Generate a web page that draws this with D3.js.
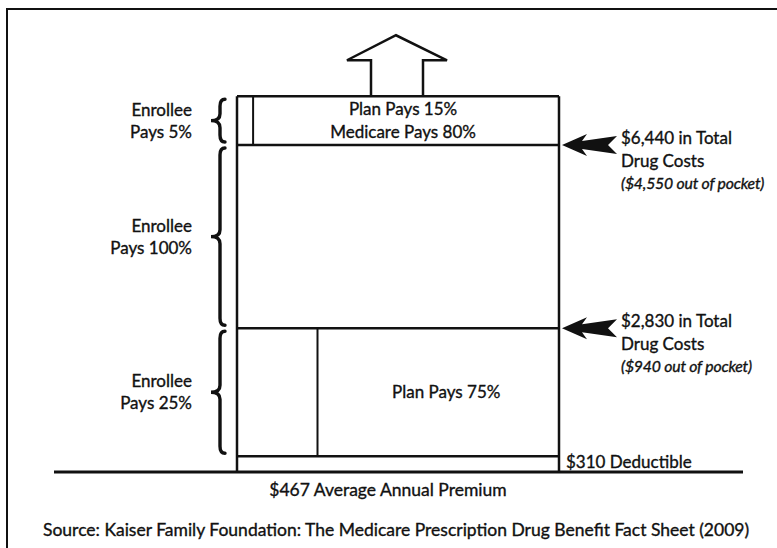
<!DOCTYPE html>
<html>
<head>
<meta charset="utf-8">
<script src="https://cdn.jsdelivr.net/npm/d3@7"></script>
<style>
  body { margin: 0; background: #fff; }
  svg text { font-family: Lato, "Open Sans", sans-serif; font-size: 17px; fill: #111; stroke: #111; stroke-width: 0.35px; }
</style>
</head>
<body>
<div id="chart"></div>
<script>
const width = 777;
const height = 548;

// total drug cost at each tier boundary ($), bottom to top (last one is just the open top of the box)
const tierBounds = [0, 310, 2830, 6440, 7400];
// share the enrollee pays inside each tier (%)
const enrolleeShare = [100, 25, 100, 5];
const braceLabels = [null, ["Enrollee", "Pays 25%"], ["Enrollee", "Pays 100%"], ["Enrollee", "Pays 5%"]];
const tierText = [null, ["Plan Pays 75%"], null, ["Plan Pays 15%", "Medicare Pays 80%"]];

// thresholds pointed at by the arrows on the right
const thresholdValues = [2830, 6440];
const thresholdLabels = [
    ["$2,830 in Total", "Drug Costs", "($940 out of pocket)"],
    ["$6,440 in Total", "Drug Costs", "($4,550 out of pocket)"]
];
const deductibleLabel = "$310 Deductible";
const premiumLabel = "$467 Average Annual Premium";
const sourceLabel = "Source: Kaiser Family Foundation: The Medicare Prescription Drug Benefit Fact Sheet (2009)";

const svg = d3.select("#chart")
    .append("svg")
    .attr("width", width)
    .attr("height", height);

const y = d3.scaleLinear().domain([0, 6440]).range([472, 145]);
const x = d3.scaleLinear().domain([0, 100]).range([237, 559]);

// outer frame (top and left edge only show in the scan)
svg.append("path")
    .attr("d", `M7,${height} L7,9 L${width},9`)
    .attr("fill", "none")
    .attr("stroke", "#111")
    .attr("stroke-width", 2);

// ground line
svg.append("line")
    .attr("x1", 54).attr("x2", 743)
    .attr("y1", y(0)).attr("y2", y(0))
    .attr("stroke", "#111").attr("stroke-width", 3);

const topValue = tierBounds[tierBounds.length - 1];

// up arrow on top of the box (catastrophic coverage has no ceiling)
const cx = (x(0) + x(100)) / 2;
const yTop = y(topValue);
svg.append("path")
    .attr("d", `M${cx - 27},${yTop} L${cx - 27},${yTop - 36} L${cx - 51},${yTop - 36} L${cx - 2},${yTop - 61} L${cx + 49},${yTop - 36} L${cx + 25},${yTop - 36} L${cx + 25},${yTop}`)
    .attr("fill", "#fff")
    .attr("stroke", "#111")
    .attr("stroke-width", 2.5);

// box sides
svg.selectAll(".side")
    .data([0, 100])
    .enter().append("line")
    .attr("class", "side")
    .attr("x1", d => x(d)).attr("x2", d => x(d))
    .attr("y1", y(0)).attr("y2", y(topValue))
    .attr("stroke", "#111").attr("stroke-width", 2.5);

// tier boundaries
svg.selectAll(".bound")
    .data(tierBounds.slice(1))
    .enter().append("line")
    .attr("class", "bound")
    .attr("x1", x(0)).attr("x2", x(100))
    .attr("y1", d => y(d)).attr("y2", d => y(d))
    .attr("stroke", "#111").attr("stroke-width", 2.5);

// split between enrollee part and plan part
const tiers = enrolleeShare.map((s, i) => ({ share: s, lo: tierBounds[i], hi: tierBounds[i + 1], i }));

svg.selectAll(".split")
    .data(tiers.filter(t => t.share < 100))
    .enter().append("line")
    .attr("class", "split")
    .attr("x1", d => x(d.share)).attr("x2", d => x(d.share))
    .attr("y1", d => y(d.lo)).attr("y2", d => y(d.hi))
    .attr("stroke", "#111").attr("stroke-width", 2);

// text inside the plan part
tiers.forEach(t => {
    const lines = tierText[t.i];
    if (!lines) return;
    const mid = (y(t.lo) + y(t.hi)) / 2;
    const tx = (x(t.share) + x(100)) / 2 + (t.share > 10 ? 8 : -3);
    lines.forEach((txt, k) => {
        svg.append("text")
            .attr("x", tx)
            .attr("y", mid + 6 + (k - (lines.length - 1) / 2) * 23)
            .attr("text-anchor", "middle")
            .text(txt);
    });
});

// curly brace, point on the left
function brace(y0, y1) {
    const xa = 220, xt = 211, xe = 225, ym = (y0 + y1) / 2, r = 7;
    return `M${xe},${y0} Q${xa},${y0} ${xa},${y0 + r} L${xa},${ym - r} Q${xa},${ym} ${xt},${ym}` +
        ` Q${xa},${ym} ${xa},${ym + r} L${xa},${y1 - r} Q${xa},${y1} ${xe},${y1}`;
}

tiers.forEach(t => {
    const lines = braceLabels[t.i];
    if (!lines) return;
    const y0 = y(t.hi) + 3, y1 = y(t.lo) - 3;
    svg.append("path")
        .attr("d", brace(y0, y1))
        .attr("fill", "none")
        .attr("stroke", "#111")
        .attr("stroke-width", 3.4)
        .attr("stroke-linecap", "round");
    const mid = (y0 + y1) / 2;
    lines.forEach((txt, k) => {
        svg.append("text")
            .attr("x", 192)
            .attr("y", mid + 6 + (k - (lines.length - 1) / 2) * 22)
            .attr("text-anchor", "end")
            .text(txt);
    });
});

// feathered arrows pointing at the thresholds
const arrowShape = "M0,0 L25,-11 L20,-4 L55,-9 L46,0 L55,9 L20,4 L25,11 Z";
thresholdValues.forEach((v, i) => {
    const ty = y(v);
    svg.append("path")
        .attr("transform", `translate(${x(100) + 3},${ty})`)
        .attr("d", arrowShape)
        .attr("fill", "#111");
    thresholdLabels[i].forEach((txt, k) => {
        svg.append("text")
            .attr("x", 621)
            .attr("y", ty - 1 + k * 22.5)
            .style("font-style", k === 2 ? "italic" : null)
            .style("font-size", k === 2 ? "15.8px" : null)
            .style("letter-spacing", k === 2 ? "-0.2px" : null)
            .text(txt);
    });
});

svg.append("text")
    .attr("x", x(100) + 7)
    .attr("y", y(0) - 4)
    .text(deductibleLabel);

svg.append("text")
    .attr("x", 388)
    .attr("y", 496)
    .attr("text-anchor", "middle")
    .style("font-size", "17.5px")
    .text(premiumLabel);

svg.append("text")
    .attr("x", 43)
    .attr("y", 536)
    .style("font-size", "17.5px")
    .text(sourceLabel);
</script>
</body>
</html>
